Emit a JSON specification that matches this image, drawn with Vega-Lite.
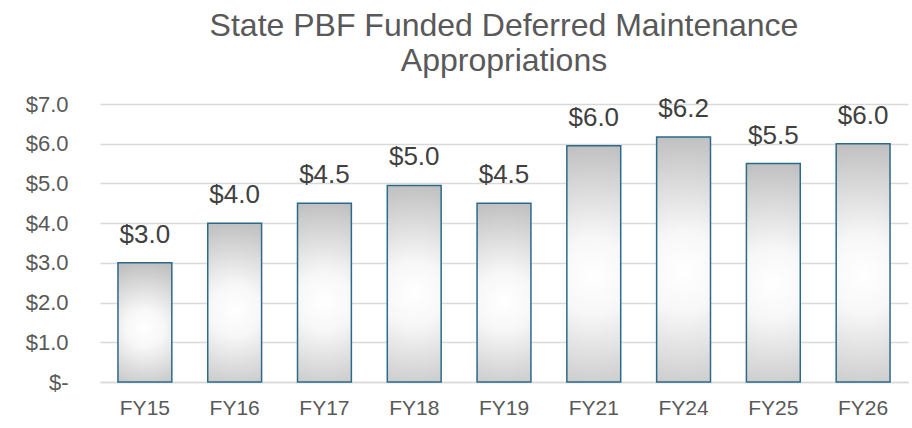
{
  "$schema": "https://vega.github.io/schema/vega-lite/v6.json",
  "width": 808,
  "height": 278,
  "autosize": {"type": "none"},
  "padding": {"left": 100, "top": 104, "right": 4, "bottom": 46},
  "background": "white",
  "title": {
    "text": ["State PBF Funded Deferred Maintenance", "Appropriations"],
    "anchor": "middle",
    "fontSize": 32,
    "font": "Liberation Sans",
    "fontWeight": "normal",
    "color": "#595959",
    "lineHeight": 35,
    "offset": 15
  },
  "config": {
    "view": {"stroke": null},
    "font": "Liberation Sans"
  },
  "data": {
    "values": [
      {"year": "FY15", "value": 3.0, "label": "$3.0"},
      {"year": "FY16", "value": 4.0, "label": "$4.0"},
      {"year": "FY17", "value": 4.5, "label": "$4.5"},
      {"year": "FY18", "value": 4.95, "label": "$5.0"},
      {"year": "FY19", "value": 4.5, "label": "$4.5"},
      {"year": "FY21", "value": 5.95, "label": "$6.0"},
      {"year": "FY24", "value": 6.17, "label": "$6.2"},
      {"year": "FY25", "value": 5.5, "label": "$5.5"},
      {"year": "FY26", "value": 6.0, "label": "$6.0"}
    ]
  },
  "encoding": {
    "x": {
      "field": "year",
      "type": "nominal",
      "sort": null,
      "scale": {"paddingInner": 0.4, "paddingOuter": 0.2},
      "axis": {
        "title": null,
        "labelAngle": 0,
        "labelFontSize": 21,
        "labelColor": "#595959",
        "labelPadding": 15,
        "ticks": false,
        "domain": true,
        "domainColor": "#d9d9d9",
        "domainWidth": 1.5
      }
    },
    "y": {
      "field": "value",
      "type": "quantitative",
      "scale": {"domain": [0, 7], "nice": false},
      "axis": {
        "title": null,
        "values": [0, 1, 2, 3, 4, 5, 6, 7],
        "labelExpr": "datum.value == 0 ? '$-' : '$' + format(datum.value, '.1f')",
        "labelFontSize": 22,
        "labelColor": "#595959",
        "labelPadding": 32,
        "ticks": false,
        "domain": false,
        "grid": true,
        "gridColor": "#d9d9d9",
        "gridWidth": 1.5
      }
    }
  },
  "layer": [
    {
      "mark": {
        "type": "bar",
        "stroke": "#2b6a8a",
        "strokeWidth": 1.5,
        "fill": {
          "gradient": "radial",
          "x1": 0.5, "y1": 0.55, "r1": 0,
          "x2": 0.5, "y2": 0.55, "r2": 0.65,
          "stops": [
            {"offset": 0, "color": "#ffffff"},
            {"offset": 0.25, "color": "#f7f7f7"},
            {"offset": 1, "color": "#b3b3b3"}
          ]
        }
      }
    },
    {
      "mark": {
        "type": "text",
        "baseline": "alphabetic",
        "dy": -20,
        "fontSize": 26,
        "color": "#404040"
      },
      "encoding": {
        "text": {"field": "label"}
      }
    }
  ]
}
